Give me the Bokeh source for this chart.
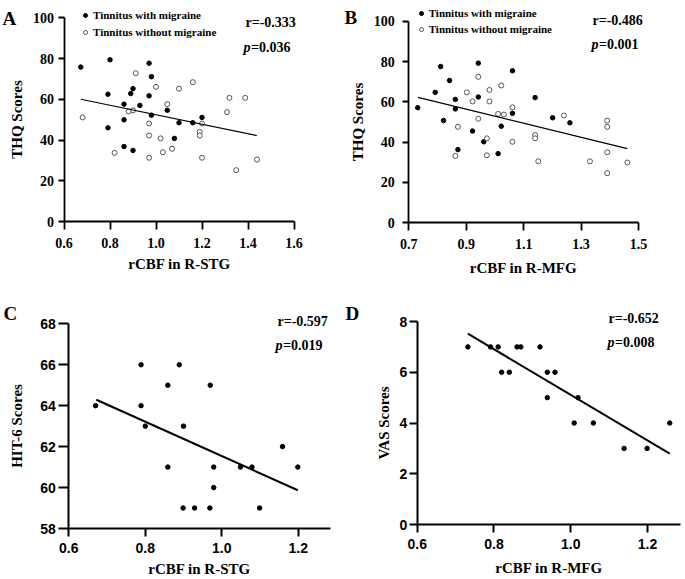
from bokeh.plotting import figure
from bokeh.models import Range1d, Label, Legend, LegendItem, FixedTicker, NumeralTickFormatter
from bokeh.layouts import gridplot
from bokeh.embed import file_html
from bokeh.resources import INLINE

# ---------------- Panel A: THQ vs rCBF in R-STG ----------------
a_mig_x = [0.673, 0.80, 0.970, 0.98, 0.90, 0.89, 0.791, 0.97, 0.861, 0.930,
           1.049, 0.98, 0.861, 1.20, 1.10, 1.16, 0.791, 1.08, 0.861, 0.90]
a_mig_y = [75.8, 79.4, 77.7, 71.1, 65.2, 62.8, 62.5, 61.7, 57.6, 57.0,
           54.6, 52.2, 49.9, 51.1, 48.5, 48.5, 46.0, 40.8, 36.8, 34.9]
a_nomig_x = [0.912, 1.00, 1.10, 1.16, 1.319, 1.388, 1.049, 0.881, 0.90, 1.309,
             0.681, 0.97, 1.20, 1.19, 1.19, 0.97, 1.02, 1.07, 1.03, 0.82,
             0.97, 1.20, 1.439, 1.349]
a_nomig_y = [72.8, 66.1, 65.2, 68.4, 60.7, 60.7, 57.6, 54.0, 54.6, 53.7,
             51.1, 48.1, 48.1, 44.0, 42.2, 42.2, 40.8, 35.7, 34.0, 33.7,
             31.3, 31.3, 30.4, 25.2]
a_fit_x = [0.673, 1.438]
a_fit_y = [60.0, 42.2]
a_xticks = [0.6, 0.8, 1.0, 1.2, 1.4, 1.6]
a_yticks = [0, 20, 40, 60, 80, 100]
a_r, a_p = "r=-0.333", "=0.036"

# ---------------- Panel B: THQ vs rCBF in R-MFG ----------------
b_mig_x = [0.731, 0.792, 0.811, 0.842, 0.862, 0.862, 0.821, 0.942, 0.942, 1.061,
           1.061, 0.922, 0.961, 1.022, 0.871, 1.011, 1.140, 1.201, 1.261]
b_mig_y = [57.1, 64.7, 77.5, 70.6, 61.2, 56.5, 50.7, 79.2, 62.4, 75.4,
           54.3, 45.5, 40.2, 47.9, 36.3, 34.3, 62.1, 52.1, 49.6]
b_nomig_x = [0.942, 0.902, 0.922, 0.981, 0.981, 1.022, 1.011, 1.031, 1.061, 0.942,
             0.871, 0.972, 1.140, 1.140, 1.061, 1.240, 1.391, 1.391, 0.862, 0.972,
             1.151, 1.331, 1.391, 1.461, 1.391]
b_nomig_y = [72.4, 64.7, 60.2, 65.9, 60.2, 68.1, 54.0, 53.7, 57.3, 51.6,
             47.6, 41.9, 43.5, 41.9, 40.2, 53.2, 50.7, 47.6, 33.2, 33.5,
             30.5, 30.5, 35.0, 29.9, 24.6]
b_fit_x = [0.732, 1.461]
b_fit_y = [62.2, 36.8]
b_xticks = [0.7, 0.9, 1.1, 1.3, 1.5]
b_yticks = [0, 20, 40, 60, 80, 100]
b_r, b_p = "r=-0.486", "=0.001"

# ---------------- Panel C: HIT-6 vs rCBF in R-STG ----------------
c_x = [0.670, 0.789, 0.889, 0.859, 0.970, 0.789, 0.800, 0.900, 1.159, 0.859,
       0.979, 1.049, 1.079, 1.199, 0.979, 0.899, 0.929, 0.969, 1.099]
c_y = [64, 66, 66, 65, 65, 64, 63, 63, 62, 61,
       61, 61, 61, 61, 60, 59, 59, 59, 59]
c_fit_x = [0.672, 1.199]
c_fit_y = [64.29, 59.87]
c_xticks = [0.6, 0.8, 1.0, 1.2]
c_yticks = [58, 60, 62, 64, 66, 68]
c_r, c_p = "r=-0.597", "=0.019"

# ---------------- Panel D: VAS vs rCBF in R-MFG ----------------
d_x = [0.732, 0.791, 0.811, 0.860, 0.870, 0.920, 0.820, 0.840, 0.939, 0.959,
       0.939, 1.019, 1.009, 1.059, 1.258, 1.139, 1.199]
d_y = [7, 7, 7, 7, 7, 7, 6, 6, 6, 6,
       5, 5, 4, 4, 4, 3, 3]
d_fit_x = [0.732, 1.258]
d_fit_y = [7.52, 2.79]
d_xticks = [0.6, 0.8, 1.0, 1.2]
d_yticks = [0, 2, 4, 6, 8]
d_r, d_p = "r=-0.652", "=0.008"

SERIF = "Liberation Serif"
SANS = "Liberation Sans"


def lin(v0, p0, v1, p1, P):
    return v0 + (P - p0) * (v1 - v0) / (p1 - p0)


def make_fig(box, xcal, ycal, xbounds, ybounds):
    """box = (left, top, width, height) in page px; xcal/ycal = (v0, px0, v1, px1)."""
    L, T, W, H = box
    xr = Range1d(lin(*xcal, L), lin(*xcal, L + W))
    yr = Range1d(lin(*ycal, T + H), lin(*ycal, T))
    p = figure(width=W, height=H, x_range=xr, y_range=yr,
               output_backend="svg", toolbar_location=None, title=None,
               min_border=0, min_border_left=0, min_border_right=0,
               min_border_top=0, min_border_bottom=0)
    p.xgrid.visible = False
    p.ygrid.visible = False
    p.outline_line_color = None
    p.xaxis.fixed_location = ybounds[0]
    p.yaxis.fixed_location = xbounds[0]
    p.xaxis.bounds = xbounds
    p.yaxis.bounds = ybounds
    return p


def style(p, xticks, yticks, xlabel, ylabel, tick_font, lw, xout, yout,
          xstand, ystand, xlab_stand, ylab_stand):
    p.xaxis.ticker = FixedTicker(ticks=xticks)
    p.yaxis.ticker = FixedTicker(ticks=yticks)
    p.xaxis.formatter = NumeralTickFormatter(format="0.0")
    p.xaxis.axis_label = xlabel
    p.yaxis.axis_label = ylabel
    for ax in (p.xaxis[0], p.yaxis[0]):
        ax.axis_line_width = lw
        ax.axis_line_color = "black"
        ax.major_tick_line_width = lw
        ax.major_tick_line_color = "black"
        ax.minor_tick_line_color = None
        ax.major_tick_in = 0
        ax.major_label_text_font = tick_font
        ax.major_label_text_font_style = "bold"
        ax.major_label_text_font_size = "14px"
        ax.major_label_text_color = "black"
        ax.axis_label_text_font = SERIF
        ax.axis_label_text_font_style = "bold"
        ax.axis_label_text_font_size = "15px"
        ax.axis_label_text_color = "black"
    p.xaxis.major_tick_out = xout
    p.yaxis.major_tick_out = yout
    p.xaxis.major_label_standoff = xstand
    p.yaxis.major_label_standoff = ystand
    p.xaxis.axis_label_standoff = xlab_stand
    p.yaxis.axis_label_standoff = ylab_stand


def txt(p, sx, sy, text, style_, size="14px", xoff=0, baseline="middle"):
    p.add_layout(Label(x=sx, y=sy, x_units="screen", y_units="screen", x_offset=xoff,
                       text=text, text_font=SERIF, text_font_style=style_,
                       text_font_size=size, text_baseline=baseline, text_align="left",
                       text_color="black"))


def add_stats(p, rpos, ppos, rtext, ptext):
    txt(p, rpos[0], rpos[1], rtext, "bold")
    txt(p, ppos[0], ppos[1], "p", "bold italic")
    txt(p, ppos[0], ppos[1], ptext, "bold", xoff=7.5)


def add_legend(p, r1, r2, loc, spacing):
    lg = Legend(items=[LegendItem(label="Tinnitus with migraine", renderers=[r1]),
                       LegendItem(label="Tinnitus without migraine", renderers=[r2])],
                location=loc, padding=0, margin=0, spacing=spacing,
                glyph_width=10, glyph_height=14, label_height=14, label_standoff=3,
                label_text_font=SERIF, label_text_font_style="bold",
                label_text_font_size="11px", label_text_color="black",
                border_line_color=None, background_fill_alpha=0)
    p.add_layout(lg)


# ---- A ----
pa = make_fig((0, 0, 340, 290), (0.6, 63.5, 1.6, 293.5), (0, 221, 100, 17.3), (0.6, 1.6), (0, 100))
style(pa, a_xticks, a_yticks, "rCBF in R-STG", "THQ Scores", SERIF, 1.8, 8, 6, 8, 4, 5, 6)
ra1 = pa.scatter(a_mig_x, a_mig_y, size=4.5, color="black")
ra2 = pa.scatter(a_nomig_x, a_nomig_y, size=5, fill_color="white", line_color="#555555", line_width=1)
pa.line(a_fit_x, a_fit_y, line_color="black", line_width=1.2)
add_legend(pa, ra1, ra2, (80, 251.5), 3)
add_stats(pa, (245, 268), (243, 243), a_r, a_p)
txt(pa, 2, 272.5, "A", "bold", size="19px", baseline="alphabetic")

# ---- B ----
pb = make_fig((340, 0, 344, 290), (0.7, 408.3, 1.5, 638), (0, 222.3, 100, 20.7), (0.7, 1.5), (0, 100))
style(pb, b_xticks, b_yticks, "rCBF in R-MFG", "THQ Scores", SERIF, 1.8, 8, 6, 8, 8, 8, 5)
rb1 = pb.scatter(b_mig_x, b_mig_y, size=4.5, color="black")
rb2 = pb.scatter(b_nomig_x, b_nomig_y, size=5, fill_color="white", line_color="#555555", line_width=1)
pb.line(b_fit_x, b_fit_y, line_color="black", line_width=1.2)
add_legend(pb, rb1, rb2, (75.7, 253.7), 2)
add_stats(pb, (252, 270), (251, 246), b_r, b_p)
txt(pb, 4, 273.5, "B", "bold", size="19px", baseline="alphabetic")

# ---- C ----
pc = make_fig((0, 290, 340, 288), (0.6, 68.3, 1.2, 297.7), (58, 528, 68, 323.3), (0.6, 1.285), (58, 68))
style(pc, c_xticks, c_yticks, "rCBF in R-STG", "HIT-6 Scores", SANS, 2, 8, 10, 6, 3, 5, 12)
pc.scatter(c_x, c_y, size=4.5, color="black")
pc.line(c_fit_x, c_fit_y, line_color="black", line_width=2)
add_stats(pc, (277, 257), (275, 233), c_r, c_p)
txt(pc, 3, 265, "C", "bold", size="19px", baseline="alphabetic")

# ---- D ----
pd_ = make_fig((340, 290, 344, 288), (0.6, 416.7, 1.2, 647), (0, 524, 8, 321), (0.6, 1.286), (0, 8))
style(pd_, d_xticks, d_yticks, "rCBF in R-MFG", "VAS Scores", SANS, 2, 8, 8, 6, 2, 8, 5)
pd_.scatter(d_x, d_y, size=4.5, color="black")
pd_.line(d_fit_x, d_fit_y, line_color="black", line_width=2)
add_stats(pd_, (268, 260), (267, 236), d_r, d_p)
txt(pd_, 5, 265, "D", "bold", size="19px", baseline="alphabetic")

grid = gridplot([[pa, pb], [pc, pd_]], toolbar_location=None)

open("out.html", "w").write(file_html(grid, INLINE))
